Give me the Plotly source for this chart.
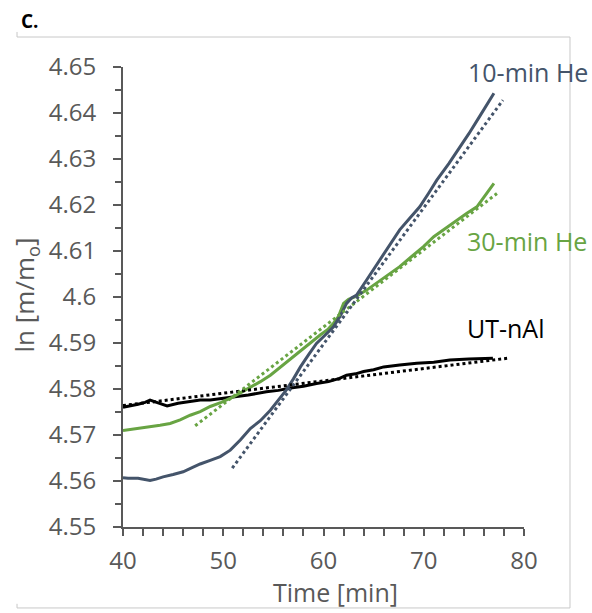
import plotly.graph_objects as go

# ---- data ----
he10_t = [40.0, 40.5, 41.5, 42.2, 42.7, 43.3, 44.0, 45.0, 46.0, 47.0, 47.7, 48.7, 49.7, 50.7, 51.7, 52.7, 53.7, 54.7, 55.5, 56.3, 57.0, 57.7, 58.5, 59.3, 60.2, 61.0, 61.7, 62.3, 62.8, 63.3, 64.3, 65.6, 66.6, 67.6, 68.6, 69.6, 70.5, 71.3, 72.5, 73.5, 74.5, 75.5, 76.3, 77.0]
he10_v = [4.5607, 4.5606, 4.5606, 4.5603, 4.5601, 4.5604, 4.5609, 4.5614, 4.5620, 4.5630, 4.5637, 4.5645, 4.5653, 4.5667, 4.5689, 4.5714, 4.5731, 4.5754, 4.5776, 4.5798, 4.5822, 4.5848, 4.5874, 4.5899, 4.5918, 4.5935, 4.5960, 4.5986, 4.5998, 4.6004, 4.6037, 4.6080, 4.6112, 4.6146, 4.6171, 4.6196, 4.6226, 4.6254, 4.6290, 4.6322, 4.6355, 4.6390, 4.6418, 4.6443]

he30_t = [40.0, 41.0, 42.0, 42.7, 43.7, 44.7, 45.7, 46.7, 47.7, 48.7, 49.8, 51.0, 52.0, 52.7, 53.7, 54.7, 55.7, 56.7, 57.7, 58.7, 59.7, 60.4, 61.0, 61.5, 62.0, 62.5, 63.3, 64.3, 65.5, 66.5, 67.6, 68.8, 70.0, 71.0, 72.2, 73.3, 74.3, 75.3, 76.2, 77.0]
he30_v = [4.5710, 4.5713, 4.5715, 4.5718, 4.5721, 4.5725, 4.5733, 4.5743, 4.5751, 4.5762, 4.5771, 4.5783, 4.5795, 4.5805, 4.5816, 4.5830, 4.5848, 4.5865, 4.5882, 4.5900, 4.5918, 4.5929, 4.5943, 4.5958, 4.5986, 4.5995, 4.6002, 4.6015, 4.6033, 4.6048, 4.6066, 4.6088, 4.6110, 4.6131, 4.6150, 4.6167, 4.6182, 4.6196, 4.6222, 4.6247]

ut_t = [40.0, 40.8, 41.5, 42.2, 42.7, 43.5, 44.4, 45.5, 46.4, 47.7, 48.7, 49.5, 51.0, 52.5, 54.3, 55.5, 56.7, 58.0, 59.3, 60.5, 61.6, 62.3, 63.2, 64.0, 65.0, 66.0, 67.6, 69.3, 71.0, 72.6, 74.5, 76.9]
ut_v = [4.5760, 4.5763, 4.5767, 4.5771, 4.5776, 4.5770, 4.5763, 4.5769, 4.5772, 4.5776, 4.5776, 4.5778, 4.5783, 4.5787, 4.5794, 4.5797, 4.5802, 4.5806, 4.5812, 4.5816, 4.5823, 4.5830, 4.5833, 4.5838, 4.5842, 4.5848, 4.5852, 4.5856, 4.5858, 4.5863, 4.5865, 4.5867]

# linear trendline end points
he10_trend_t = [50.9, 77.9]
he10_trend_v = [4.5628, 4.6428]
he30_trend_t = [47.2, 77.3]
he30_trend_v = [4.5720, 4.6225]
ut_trend_t = [40.0, 78.4]
ut_trend_v = [4.5764, 4.5867]

labels = ["10-min He", "30-min He", "UT-nAl"]
label_t = [74.2, 74.1, 74.1]
label_v = [4.6489, 4.6122, 4.5933]

BLUE = "#44546A"
GREEN = "#68A443"
BLACK = "#000000"
AX = "#595959"
FONT = "Open Sans"

fig = go.Figure()
for t, v, c in [(ut_t, ut_v, BLACK), (he30_t, he30_v, GREEN), (he10_t, he10_v, BLUE)]:
    fig.add_trace(go.Scatter(x=t, y=v, mode="lines", line=dict(color=c, width=3), showlegend=False))
for t, v, c in [(ut_trend_t, ut_trend_v, BLACK), (he30_trend_t, he30_trend_v, GREEN), (he10_trend_t, he10_trend_v, BLUE)]:
    fig.add_trace(go.Scatter(x=t, y=v, mode="lines", line=dict(color=c, width=3, dash="dot"), showlegend=False))

for txt, t, v, c in zip(labels, label_t, label_v, [BLUE, GREEN, BLACK]):
    fig.add_annotation(x=t, y=v, xref="x", yref="y", text=txt, showarrow=False,
                       xanchor="left", yanchor="middle", font=dict(family=FONT, size=25, color=c))

fig.add_annotation(x=-0.26, y=1.10, xref="paper", yref="paper", text="<b>C.</b>", showarrow=False,
                   xanchor="left", yanchor="middle", font=dict(family=FONT, size=19, color="#000000"))

# axis titles
fig.add_annotation(x=0.529, y=-0.141, xref="paper", yref="paper", text="Time [min]", showarrow=False,
                   xanchor="center", yanchor="middle", font=dict(family=FONT, size=25, color=AX))
fig.add_annotation(x=-0.245, y=0.505, xref="paper", yref="paper", text="ln [m/m<sub>o</sub>]", showarrow=False,
                   textangle=-90, xanchor="center", yanchor="middle", font=dict(family=FONT, size=26, color=AX))

# frame lines
FR = "#C8C8C8"
x0, x1 = -0.2643, 1.1147
y0, y1 = -0.176, 1.0652
for s in [dict(x0=x0, x1=x1, y0=y1, y1=y1), dict(x0=x1, x1=x1, y0=y0, y1=y1), dict(x0=x0, x1=x1, y0=y0, y1=y0),
          dict(x0=x0, x1=x0, y0=y1, y1=y1 + 0.011), dict(x0=x0, x1=x0, y0=y0, y1=y0 + 0.009)]:
    fig.add_shape(type="line", xref="paper", yref="paper", line=dict(color=FR, width=1), **s)

fig.update_layout(
    width=592, height=613,
    margin=dict(l=123, r=68, t=67, b=86),
    plot_bgcolor="white", paper_bgcolor="white",
    font=dict(family=FONT, color=AX),
)
fig.update_xaxes(range=[40, 80], tickvals=[40, 50, 60, 70, 80], showgrid=False, zeroline=False,
                 showline=True, linecolor=AX, linewidth=2, ticks="outside", ticklen=7, tickwidth=2, tickcolor=AX,
                 tickfont=dict(family=FONT, size=24, color=AX), ticklabelstandoff=4,
                 minor=dict(dtick=2, ticks="outside", ticklen=7, tickwidth=2, tickcolor=AX, showgrid=False))
fig.update_yaxes(range=[4.55, 4.65], tickvals=[4.55, 4.56, 4.57, 4.58, 4.59, 4.60, 4.61, 4.62, 4.63, 4.64, 4.65],
                 ticktext=["4.55", "4.56", "4.57", "4.58", "4.59", "4.6", "4.61", "4.62", "4.63", "4.64", "4.65"],
                 showgrid=False, zeroline=False,
                 showline=True, linecolor=AX, linewidth=2, ticks="outside", ticklen=8, tickwidth=2, tickcolor=AX,
                 tickfont=dict(family=FONT, size=24, color=AX), ticklabelstandoff=12,
                 minor=dict(dtick=0.005, tick0=4.55, ticks="outside", ticklen=6, tickwidth=2, tickcolor=AX, showgrid=False))

fig.write_html("out.html")
